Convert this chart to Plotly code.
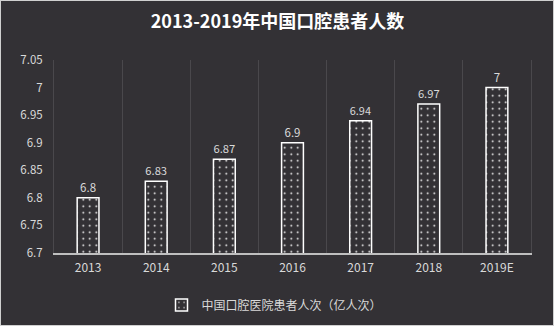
import plotly.graph_objects as go

categories = ["2013", "2014", "2015", "2016", "2017", "2018", "2019E"]
values = [6.8, 6.83, 6.87, 6.9, 6.94, 6.97, 7.0]
value_labels = ["6.8", "6.83", "6.87", "6.9", "6.94", "6.97", "7"]
y_ticks = [6.7, 6.75, 6.8, 6.85, 6.9, 6.95, 7.0, 7.05]
y_tick_labels = ["6.7", "6.75", "6.8", "6.85", "6.9", "6.95", "7", "7.05"]
series_name = "中国口腔医院患者人次（亿人次）"
title_text = "2013-2019年中国口腔患者人数"

BG = "#333135"
GRID = "#4a484c"
FONT = "Microsoft YaHei, Noto Sans CJK SC, sans-serif"
W, H = 555, 335
L, R, T, B = 54, 24, 60, 82
pw, ph = W - L - R, H - T - B

fig = go.Figure()
fig.add_trace(go.Bar(
    x=categories, y=values, name=series_name,
    width=0.32,
    text=value_labels, textposition="outside", cliponaxis=False,
    textfont=dict(color="#d9d9d9", size=11.5, family=FONT),
    marker=dict(
        color=BG,
        line=dict(color="#ffffff", width=1.5),
        pattern=dict(shape=".", fgcolor="#ffffff", bgcolor=BG, size=6.5, solidity=0.06, fillmode="replace"),
    ),
    showlegend=True,
))

def px_to_paper_x(px):
    return (px - L) / pw

def px_to_paper_y(py):
    return (H - B - py) / ph

fig.add_shape(type="rect", xref="paper", yref="paper", layer="below",
              x0=px_to_paper_x(0.5), x1=px_to_paper_x(553.5),
              y0=px_to_paper_y(325.5), y1=px_to_paper_y(0.5),
              fillcolor=BG, line=dict(color="#d0d0d0", width=1))

fig.update_layout(
    width=W, height=H,
    margin=dict(l=L, r=R, t=T, b=B),
    paper_bgcolor="#ffffff", plot_bgcolor="rgba(0,0,0,0)",
    font=dict(family=FONT, color="#d9d9d9", size=11),
    title=dict(text="<b>" + title_text + "</b>", x=0.5, xanchor="center",
               y=1 - 22 / H, yanchor="middle", yref="container",
               font=dict(size=18, color="#ffffff", family=FONT)),
    xaxis=dict(
        showgrid=True, gridcolor=GRID, gridwidth=1,
        ticks="", showline=True, linecolor="#bfbfbf", linewidth=1.5,
        tickfont=dict(size=12, color="#d9d9d9"),
        ticklabelstandoff=3, tickson="boundaries",
    ),
    yaxis=dict(
        range=[6.7, 7.05], tickvals=y_ticks, ticktext=y_tick_labels,
        showgrid=False, zeroline=False,
        showline=True, linecolor=GRID, linewidth=1, mirror=True,
        tickfont=dict(size=11.5, color="#d9d9d9"),
        ticklabelstandoff=8,
    ),
    legend=dict(orientation="h", x=0.5 - 18 / pw, xanchor="center",
                y=px_to_paper_y(305), yanchor="middle",
                font=dict(size=12, color="#d9d9d9"),
                itemwidth=30,
                bgcolor="rgba(0,0,0,0)"),
)

fig.write_html("out.html")
